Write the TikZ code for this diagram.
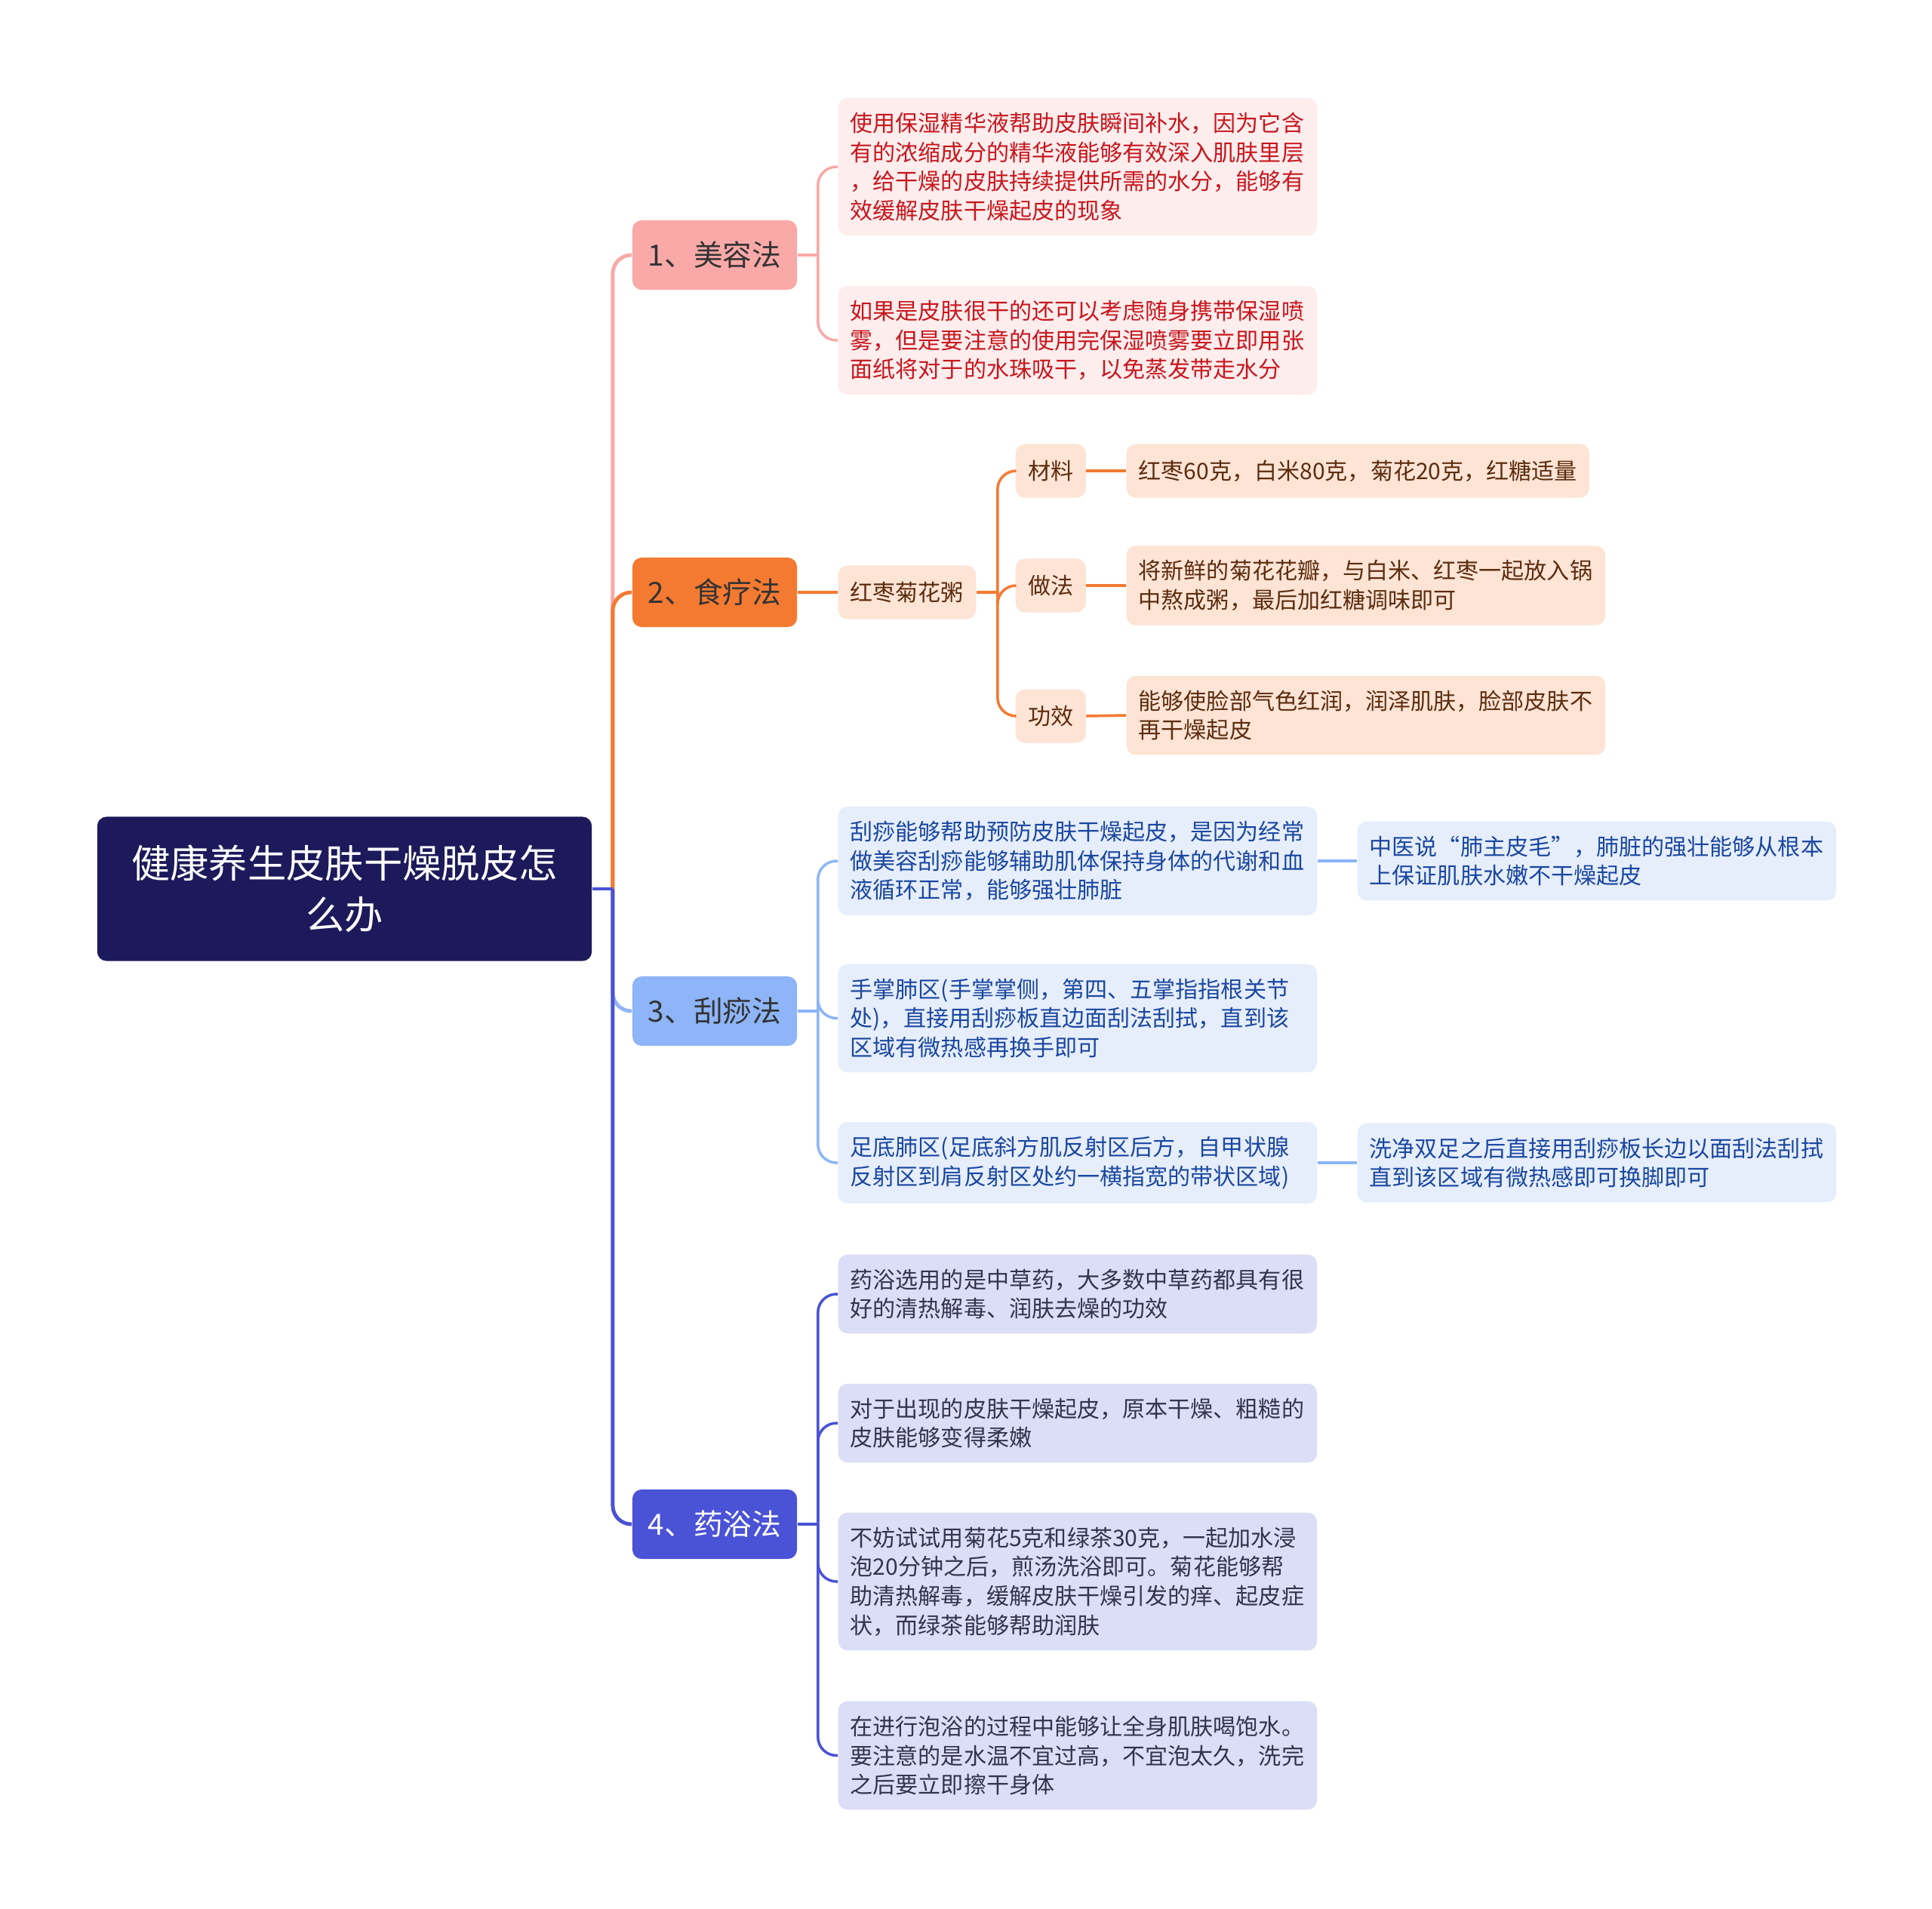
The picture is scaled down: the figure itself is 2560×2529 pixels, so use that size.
\documentclass[tikz,border=0pt]{standalone}
\usepackage{fontspec}
\setmainfont{Noto Sans CJK SC}
\usepackage{xcolor}

\definecolor{rootfill}{HTML}{1C1A5B}
\definecolor{pinkmain}{HTML}{F9A9A7}
\definecolor{orangemain}{HTML}{F47A32}
\definecolor{bluemain}{HTML}{8DB5F7}
\definecolor{indigomain}{HTML}{4A52D6}
\definecolor{pinkbg}{HTML}{FDEDED}
\definecolor{pinktxt}{HTML}{C8161D}
\definecolor{peachbg}{HTML}{FDE4D5}
\definecolor{peachtxt}{HTML}{5C2C0E}
\definecolor{bluebg}{HTML}{E6EEFC}
\definecolor{bluetxt}{HTML}{1A47A0}
\definecolor{lavbg}{HTML}{DCDDF6}
\definecolor{lavtxt}{HTML}{33334D}

\begin{document}
\begin{tikzpicture}[x=0.01cm,y=-0.01cm,
    every node/.style={inner sep=0pt},
    rootbox/.style={fill=rootfill,rounded corners=3.5pt,text=white,align=center,
      minimum width=6.55cm,minimum height=1.91cm,font=\fontsize{14.6}{19.5}\selectfont},
    methbox/.style={rounded corners=3.5pt,minimum width=2.18cm,minimum height=0.92cm,
      font=\fontsize{11}{13}\selectfont},
    leafbox/.style={rounded corners=3.5pt,anchor=west,align=left,text width=6.02cm,
      inner xsep=0.16cm,inner ysep=0.19cm,font=\fontsize{8.55}{11}\selectfont},
    tagbox/.style={rounded corners=3.5pt,anchor=west,fill=peachbg,text=peachtxt,
      inner xsep=0.16cm,minimum height=0.71cm,font=\fontsize{8.55}{11}\selectfont},
    pinkleaf/.style={leafbox,fill=pinkbg,text=pinktxt},
    peachleaf/.style={leafbox,fill=peachbg,text=peachtxt},
    blueleaf/.style={leafbox,fill=bluebg,text=bluetxt},
    lavleaf/.style={leafbox,fill=lavbg,text=lavtxt},
    trunk/.style={line width=1.4pt,rounded corners=7pt},
    twig/.style={line width=1pt,rounded corners=7pt}]

  \fill[white] (0,0) rectangle (2560,2529);
  \useasboundingbox (0,0) rectangle (2560,2529);

  % root and the four methods
  \node[rootbox] (root) at (456.5,1178) {健康养生皮肤干燥脱皮怎\\么办};
  \node[methbox,fill=pinkmain,text=black!80] (m1) at (947,338) {1、美容法};
  \node[methbox,fill=orangemain,text=black!80] (m2) at (947,785) {2、食疗法};
  \node[methbox,fill=bluemain,text=black!80] (m3) at (947,1340) {3、刮痧法};
  \node[methbox,fill=indigomain,text=white] (m4) at (947,2020) {4、药浴法};

  % 1
  \node[pinkleaf] (a1) at (1110,221) {使用保湿精华液帮助皮肤瞬间补水，因为它含\\有的浓缩成分的精华液能够有效深入肌肤里层\\，给干燥的皮肤持续提供所需的水分，能够有\\效缓解皮肤干燥起皮的现象};
  \node[pinkleaf] (a2) at (1110,451) {如果是皮肤很干的还可以考虑随身携带保湿喷\\雾，但是要注意的使用完保湿喷雾要立即用张\\面纸将对于的水珠吸干，以免蒸发带走水分};

  % 2
  \node[tagbox,minimum width=1.81cm] (zhou) at (1110,785) {红枣菊花粥};
  \node[tagbox,minimum width=0.93cm] (cl) at (1345,624) {材料};
  \node[tagbox,minimum width=0.93cm] (zf) at (1345,776) {做法};
  \node[tagbox,minimum width=0.93cm] (gx) at (1345,949) {功效};
  \node[tagbox] (cld) at (1492,624) {红枣60克，白米80克，菊花20克，红糖适量};
  \node[peachleaf] (zfd) at (1492,776) {将新鲜的菊花花瓣，与白米、红枣一起放入锅\\中熬成粥，最后加红糖调味即可};
  \node[peachleaf] (gxd) at (1492,948) {能够使脸部气色红润，润泽肌肤，脸部皮肤不\\再干燥起皮};

  % 3
  \node[blueleaf] (b1) at (1110,1141) {刮痧能够帮助预防皮肤干燥起皮，是因为经常\\做美容刮痧能够辅助肌体保持身体的代谢和血\\液循环正常，能够强壮肺脏};
  \node[blueleaf] (b2) at (1110,1349.5) {手掌肺区(手掌掌侧，第四、五掌指指根关节\\处)，直接用刮痧板直边面刮法刮拭，直到该\\区域有微热感再换手即可};
  \node[blueleaf] (b3) at (1110,1541) {足底肺区(足底斜方肌反射区后方，自甲状腺\\反射区到肩反射区处约一横指宽的带状区域)};
  \node[blueleaf] (c1) at (1798,1141) {中医说“肺主皮毛”，肺脏的强壮能够从根本\\上保证肌肤水嫩不干燥起皮};
  \node[blueleaf] (c2) at (1798,1541) {洗净双足之后直接用刮痧板长边以面刮法刮拭\\直到该区域有微热感即可换脚即可};

  % 4
  \node[lavleaf] (d1) at (1110,1715) {药浴选用的是中草药，大多数中草药都具有很\\好的清热解毒、润肤去燥的功效};
  \node[lavleaf] (d2) at (1110,1886) {对于出现的皮肤干燥起皮，原本干燥、粗糙的\\皮肤能够变得柔嫩};
  \node[lavleaf] (d3) at (1110,2096) {不妨试试用菊花5克和绿茶30克，一起加水浸\\泡20分钟之后，煎汤洗浴即可。菊花能够帮\\助清热解毒，缓解皮肤干燥引发的痒、起皮症\\状，而绿茶能够帮助润肤};
  \node[lavleaf] (d4) at (1110,2326.5) {在进行泡浴的过程中能够让全身肌肤喝饱水。\\要注意的是水温不宜过高，不宜泡太久，洗完\\之后要立即擦干身体};

  % junction points
  \path (root.east) -- ++(27,0) coordinate (j0);
  \path (m1.east) -- ++(27,0) coordinate (j1);
  \path (m3.east) -- ++(27,0) coordinate (j3);
  \path (m4.east) -- ++(27,0) coordinate (j4);
  \path (zhou.east) -- ++(28,0) coordinate (jz);

  % connectors
  \draw[trunk,pinkmain] (j0) |- (m1.west);
  \draw[trunk,orangemain] (j0) |- (m2.west);
  \draw[trunk,bluemain] (j0) |- (m3.west);
  \draw[trunk,indigomain] (j0) |- (m4.west);
  \draw[trunk,indigomain] (root.east) -- (j0);

  \foreach \n in {a1,a2}
    \draw[twig,pinkmain] (j1) |- (\n.west);
  \draw[twig,pinkmain] (m1.east) -- (j1);
  \draw[twig,orangemain] (m2.east) -- (zhou.west);
  \foreach \n in {cl,zf,gx}
    \draw[twig,orangemain] (jz) |- (\n.west);
  \draw[twig,orangemain] (zhou.east) -- (jz);
  \foreach \n/\d in {cl/cld,zf/zfd,gx/gxd}
    \draw[twig,orangemain] (\n.east) -- (\d.west);
  \foreach \n in {b1,b2,b3}
    \draw[twig,bluemain] (j3) |- (\n.west);
  \draw[twig,bluemain] (m3.east) -- (j3);
  \draw[twig,bluemain] (b1.east) -- (c1.west);
  \draw[twig,bluemain] (b3.east) -- (c2.west);
  \foreach \n in {d1,d2,d3,d4}
    \draw[twig,indigomain] (j4) |- (\n.west);
  \draw[twig,indigomain] (m4.east) -- (j4);
\end{tikzpicture}
\end{document}
